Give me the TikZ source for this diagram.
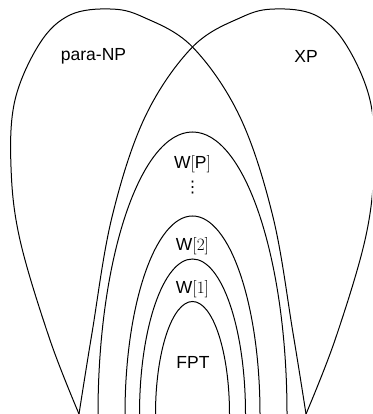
\documentclass[tikz,border=0pt]{standalone}
\usepackage{fontspec}
\setsansfont{Liberation Sans}
\newfontfamily\djv{DejaVu Sans}
\begin{document}
\begin{tikzpicture}[x=1pt,y=1pt,
  curve/.style={line width=1pt},
  lab/.style={font=\sffamily\fontsize{17.5}{21}\selectfont, inner sep=0pt, anchor=base}]
\useasboundingbox (0,0) rectangle (372,414);
\begin{scope}
\clip (0,0) rectangle (372,414);
% para-NP
\draw[curve] plot[smooth, tension=0.6] coordinates {(79,0) (50,74) (20,174) (11,247) (15,314) (40,371) (70,399) (110,405) (143,397) (192.5,367) (240,297) (273,197) (293,81) (306,0)};
% XP (mirror)
\draw[curve] plot[smooth, tension=0.6] coordinates {(306,0) (335,74) (365,174) (374,247) (370,314) (345,371) (315,399) (275,405) (242,397) (192.5,367) (145,297) (112,197) (92,81) (79,0)};
% W hierarchy arches
\draw[curve] (98,0) arc[start angle=180, end angle=0, x radius=94.5, y radius=282];
\draw[curve] (125,0) arc[start angle=180, end angle=0, x radius=67.5, y radius=198];
\draw[curve] (139.5,0) arc[start angle=180, end angle=0, x radius=53, y radius=155];
\draw[curve] (155.5,0) arc[start angle=180, end angle=0, x radius=37, y radius=112.5];
\end{scope}
\node[lab] (paranp) at (93.5,353.5) {para-NP};
\node[lab] (xp) at (306,351.5) {XP};
\node[lab] (wp) at (192.5,245.7) {W$[$P$]$};
\node[inner sep=0pt, font=\djv\fontsize{16}{19}\selectfont] (dots) at (192.5,226.7) {⋮};
\node[lab] (w2) at (192.5,163) {W$[2]$};
\node[lab] (w1) at (192.5,120.7) {W$[1]$};
\node[lab] (fpt) at (193,45.7) {FPT};
\end{tikzpicture}
\end{document}
